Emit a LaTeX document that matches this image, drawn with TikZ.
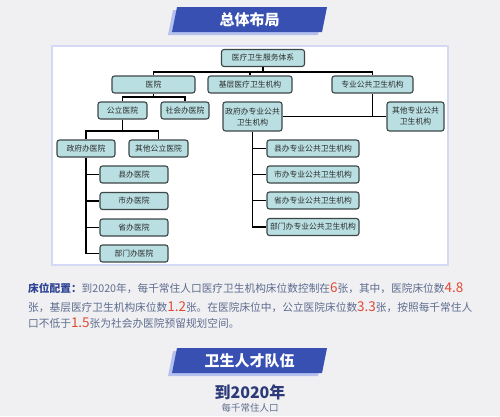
\documentclass[tikz,border=0pt]{standalone}
\usepackage{fontspec}
\setmainfont{Noto Sans CJK SC}
\usepackage{xcolor}
\usepackage{tikz}
\definecolor{pagebg}{RGB}{240,240,242}
\definecolor{panelrim}{RGB}{212,218,246}
\definecolor{bannerblue}{RGB}{55,80,178}
\definecolor{bannerlite}{RGB}{180,192,238}
\definecolor{boxfill}{RGB}{185,223,226}
\definecolor{boxedge}{RGB}{61,71,71}
\definecolor{boxtext}{RGB}{45,45,45}
\definecolor{labelblue}{RGB}{46,67,148}
\definecolor{bodyblue}{RGB}{93,108,142}
\definecolor{numred}{RGB}{224,74,53}
\definecolor{navy}{RGB}{44,59,120}
\newcommand\bignum[1]{{\color{numred}\fontsize{13.5}{14}\selectfont #1}}

\begin{document}
\begin{tikzpicture}[x=1pt, y=-1pt,
  orgbox/.style={rectangle, draw=boxedge, fill=boxfill, text=boxtext,
                 rounded corners=2.5pt, line width=1.1pt, inner sep=0pt,
                 minimum height=17pt, align=center,
                 font=\fontsize{7.8}{11}\selectfont},
  link/.style={line width=1.8pt, black},
  bannertext/.style={text=white, font=\fontsize{15}{16}\selectfont\bfseries},
  para/.style={anchor=base west, inner sep=0pt, text=bodyblue,
               font=\fontsize{10.7}{12}\selectfont},
]
\useasboundingbox (0,0) rectangle (500,416);
\fill[pagebg] (0,0) rectangle (500,416);

% banner 1
\fill[bannerlite] (168,35) -- (173,10) -- (323,10) -- (318,35) -- cycle;
\fill[bannerblue] (172,32) -- (177,7) -- (327,7) -- (322,32) -- cycle;
\node[bannertext] (title1) at (249.5,19.5) {总体布局};

% panel
\draw[panelrim, fill=white, line width=1.5pt] (52,46) rectangle (448,265);

\node[orgbox, minimum width=83pt] (root)  at (263,58)    {医疗卫生服务体系};
\node[orgbox, minimum width=83pt] (hosp)  at (153.5,84.5) {医院};
\node[orgbox, minimum width=84pt] (basic) at (250,84.5)  {基层医疗卫生机构};
\node[orgbox, minimum width=81pt] (spec)  at (372.5,84.5) {专业公共卫生机构};

\node[orgbox, minimum width=49pt] (pub)   at (122.5,110.5) {公立医院};
\node[orgbox, minimum width=48pt] (soc)   at (185,110.5)   {社会办医院};
\node[orgbox, minimum width=59pt, minimum height=29pt] (govs) at (252.5,116.5) {政府办专业公共\\卫生机构};
\node[orgbox, minimum width=57pt, minimum height=29pt] (oths) at (415.5,116.5) {其他专业公共\\卫生机构};

\node[orgbox, minimum width=58pt] (gov)   at (86,148.5)    {政府办医院};
\node[orgbox, minimum width=59pt] (othp)  at (158.5,148.5)  {其他公立医院};

\node[orgbox, minimum width=68pt] (h1) at (134,174.5) {县办医院};
\node[orgbox, minimum width=68pt] (h2) at (134,201)   {市办医院};
\node[orgbox, minimum width=68pt] (h3) at (134,227.5) {省办医院};
\node[orgbox, minimum width=68pt] (h4) at (134,253.5) {部门办医院};

\node[orgbox, minimum width=92pt] (s1) at (313,148.5) {县办专业公共卫生机构};
\node[orgbox, minimum width=92pt] (s2) at (313,174.5) {市办专业公共卫生机构};
\node[orgbox, minimum width=92pt] (s3) at (313,200.5) {省办专业公共卫生机构};
\node[orgbox, minimum width=92pt] (s4) at (313,227)   {部门办专业公共卫生机构};

\coordinate (bus1) at (263,72);
\coordinate (bus2) at (153.5,97);
\coordinate (bus3) at (122.5,131);
\coordinate (bus4) at (372.5,116.5);

\draw[link] (root) -- (bus1);
\draw[link] (bus1) -| (hosp);
\draw[link] (bus1) -| (basic);
\draw[link] (bus1) -| (spec);
\draw[link] (hosp) -- (bus2);
\draw[link] (bus2) -| (pub);
\draw[link] (bus2) -| (soc);
\draw[link] (pub) -- (bus3);
\draw[link] (bus3) -| (gov);
\draw[link] (bus3) -| (othp);
\draw[link] (spec) -- (bus4);
\draw[link] (govs) -- (oths);
\foreach \k in {1,...,4} {
  \draw[link] (gov) |- (h\k);
  \draw[link] (govs) |- (s\k);
}

% bed configuration text
\node[para] (line1) at (28,292) {{\color{labelblue}\bfseries 床位配置：}到2020年，每千常住人口医疗卫生机构床位数控制在\bignum{6}张，其中，医院床位数\bignum{4.8}};
\node[para] (line2) at (28,311) {张，基层医疗卫生机构床位数\bignum{1.2}张。在医院床位中，公立医院床位数\bignum{3.3}张，按照每千常住人};
\node[para] (line3) at (28,327) {口不低于\bignum{1.5}张为社会办医院预留规划空间。};

% banner 2
\fill[bannerlite] (168,376) -- (173,351) -- (323,351) -- (318,376) -- cycle;
\fill[bannerblue] (172,373) -- (177,348) -- (327,348) -- (322,373) -- cycle;
\node[bannertext] (title2) at (249.5,360.5) {卫生人才队伍};

\node[text=navy, font=\fontsize{16}{18}\selectfont\bfseries] (year) at (250,392) {到2020年};
\node[text=bodyblue, font=\fontsize{9.5}{11}\selectfont] (perk) at (250,408) {每千常住人口};

\end{tikzpicture}
\end{document}
